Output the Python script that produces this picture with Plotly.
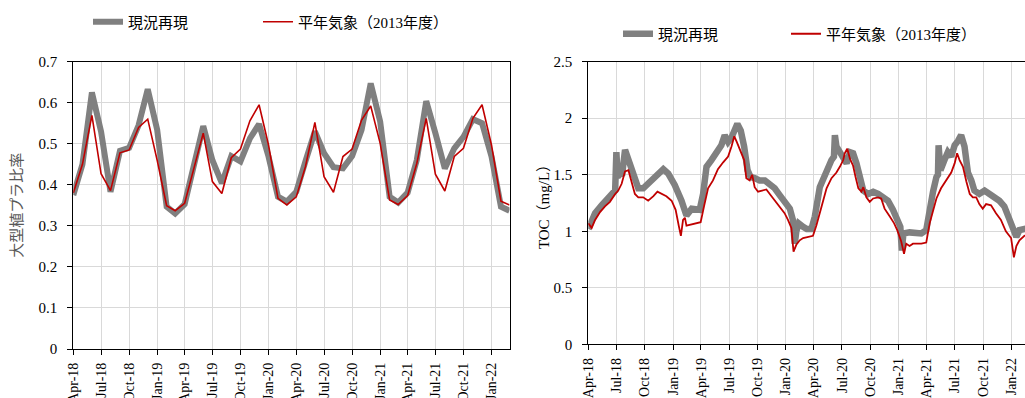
import pandas as pd
import plotly.graph_objects as go

# ---------------- Left chart: monthly ratio ----------------
months = pd.date_range("2018-04-01", periods=48, freq="MS")
ratio_current = [0.375, 0.45, 0.625, 0.53, 0.383, 0.483, 0.49, 0.545, 0.633, 0.534, 0.347, 0.33,
                 0.353, 0.444, 0.543, 0.46, 0.404, 0.47, 0.457, 0.513, 0.548, 0.469, 0.371, 0.359,
                 0.383, 0.457, 0.53, 0.477, 0.443, 0.44, 0.47, 0.534, 0.647, 0.554, 0.371, 0.357,
                 0.381, 0.46, 0.604, 0.526, 0.44, 0.489, 0.517, 0.56, 0.55, 0.469, 0.347, 0.337]
ratio_normal = [0.38, 0.45, 0.569, 0.427, 0.386, 0.478, 0.485, 0.54, 0.56, 0.46, 0.349, 0.337,
                0.355, 0.439, 0.526, 0.408, 0.379, 0.466, 0.487, 0.556, 0.595, 0.497, 0.367, 0.351,
                0.371, 0.444, 0.552, 0.42, 0.382, 0.469, 0.487, 0.558, 0.592, 0.501, 0.363, 0.352,
                0.374, 0.452, 0.562, 0.426, 0.385, 0.469, 0.489, 0.562, 0.595, 0.497, 0.36, 0.351]

# ---------------- Right chart: daily TOC ----------------
toc_current_dates = [
    "2018-04-01", "2018-04-23", "2018-05-14", "2018-06-05", "2018-06-27", "2018-07-01", "2018-07-05",
    "2018-07-10", "2018-07-20", "2018-07-29", "2018-08-09", "2018-08-25", "2018-09-10", "2018-09-26",
    "2018-10-18", "2018-11-08", "2018-11-30", "2018-12-16", "2019-01-06", "2019-01-28", "2019-02-13",
    "2019-03-02", "2019-03-19", "2019-03-28", "2019-04-08", "2019-04-19", "2019-05-05", "2019-05-21",
    "2019-06-06", "2019-06-17", "2019-06-28", "2019-07-09", "2019-07-20", "2019-07-28", "2019-08-08",
    "2019-08-19", "2019-08-30", "2019-09-09", "2019-09-22", "2019-10-08", "2019-10-25", "2019-11-10",
    "2019-11-26", "2019-12-12", "2019-12-28", "2020-01-14", "2020-01-24", "2020-01-30", "2020-02-04",
    "2020-02-12", "2020-02-26", "2020-03-09", "2020-03-24", "2020-04-04", "2020-04-20", "2020-05-01",
    "2020-05-17", "2020-05-28", "2020-06-05", "2020-06-08", "2020-06-13", "2020-06-24", "2020-07-05",
    "2020-07-16", "2020-07-27", "2020-08-06", "2020-08-17", "2020-08-28", "2020-09-08", "2020-09-24",
    "2020-10-10", "2020-10-26", "2020-11-11", "2020-11-27", "2020-12-13", "2020-12-29", "2021-01-06",
    "2021-01-11", "2021-01-16", "2021-02-05", "2021-02-21", "2021-03-15", "2021-03-31", "2021-04-11",
    "2021-04-22", "2021-05-03", "2021-05-08", "2021-05-10", "2021-05-14", "2021-05-16", "2021-05-29",
    "2021-06-09", "2021-06-20", "2021-07-01", "2021-07-12", "2021-07-22", "2021-08-02", "2021-08-13",
    "2021-08-24", "2021-09-03", "2021-09-19", "2021-10-06", "2021-10-22", "2021-11-07", "2021-11-23",
    "2021-12-09", "2021-12-26", "2022-01-09", "2022-01-17", "2022-01-27", "2022-02-12", "2022-02-28"]
toc_current = [
    1.02, 1.16, 1.23, 1.30, 1.36, 1.70, 1.48,
    1.50, 1.51, 1.72, 1.63, 1.50, 1.38, 1.38,
    1.44, 1.51, 1.55, 1.51, 1.41, 1.27, 1.14,
    1.20, 1.19, 1.19, 1.33, 1.57, 1.63, 1.70,
    1.76, 1.85, 1.79, 1.83, 1.91, 1.95, 1.89,
    1.75, 1.54, 1.48, 1.47, 1.45, 1.45, 1.42,
    1.38, 1.32, 1.26, 1.20, 1.10, 0.89, 1.00,
    1.07, 1.04, 1.02, 1.02, 1.13, 1.39, 1.47,
    1.57, 1.63, 1.66, 1.85, 1.75, 1.69, 1.64,
    1.60, 1.70, 1.69, 1.60, 1.48, 1.36, 1.33,
    1.35, 1.33, 1.30, 1.27, 1.19, 1.10, 1.04,
    0.83, 0.98, 0.99, 0.99, 0.98, 1.01, 1.22,
    1.35, 1.48, 1.50, 1.76, 1.62, 1.54, 1.63,
    1.70, 1.66, 1.76, 1.80, 1.85, 1.75, 1.52,
    1.45, 1.36, 1.33, 1.36, 1.33, 1.30, 1.27,
    1.22, 1.10, 0.97, 0.95, 1.01, 1.02, 1.03]

toc_normal_dates = [
    "2018-04-01", "2018-04-12", "2018-04-23", "2018-05-09", "2018-05-25", "2018-06-10", "2018-06-27",
    "2018-07-07", "2018-07-18", "2018-07-29", "2018-08-09", "2018-08-19", "2018-08-30", "2018-09-10",
    "2018-09-26", "2018-10-12", "2018-10-29", "2018-11-11", "2018-11-24", "2018-12-10", "2018-12-27",
    "2019-01-09", "2019-01-19", "2019-01-26", "2019-02-02", "2019-02-08", "2019-02-13", "2019-03-02",
    "2019-03-19", "2019-03-31", "2019-04-11", "2019-04-24", "2019-05-10", "2019-05-26", "2019-06-12",
    "2019-06-28", "2019-07-09", "2019-07-18", "2019-07-26", "2019-08-05", "2019-08-19", "2019-08-26",
    "2019-09-06", "2019-09-14", "2019-09-22", "2019-10-03", "2019-10-19", "2019-10-30", "2019-11-10",
    "2019-11-26", "2019-12-12", "2019-12-28", "2020-01-08", "2020-01-19", "2020-01-26", "2020-02-04",
    "2020-02-15", "2020-02-26", "2020-03-29", "2020-04-09", "2020-04-25", "2020-05-12", "2020-05-28",
    "2020-06-13", "2020-06-24", "2020-07-05", "2020-07-10", "2020-07-18", "2020-07-27", "2020-08-06",
    "2020-08-14", "2020-08-23", "2020-09-02", "2020-09-08", "2020-09-18", "2020-09-29", "2020-10-10",
    "2020-10-26", "2020-11-05", "2020-11-16", "2020-12-03", "2020-12-17", "2020-12-27", "2021-01-09",
    "2021-01-18", "2021-01-25", "2021-02-05", "2021-02-16", "2021-03-15", "2021-03-31", "2021-04-11",
    "2021-04-22", "2021-05-03", "2021-05-18", "2021-06-03", "2021-06-20", "2021-07-01", "2021-07-09",
    "2021-07-17", "2021-07-28", "2021-08-08", "2021-08-19", "2021-08-29", "2021-09-09", "2021-09-19",
    "2021-09-30", "2021-10-11", "2021-10-27", "2021-11-12", "2021-11-28", "2021-12-14", "2021-12-31",
    "2022-01-09", "2022-01-17", "2022-01-27", "2022-02-12", "2022-02-28"]
toc_normal = [
    1.07, 1.03, 1.10, 1.17, 1.22, 1.26, 1.33,
    1.36, 1.42, 1.53, 1.54, 1.45, 1.33, 1.30,
    1.30, 1.27, 1.31, 1.35, 1.33, 1.31, 1.27,
    1.19, 1.05, 0.96, 1.10, 1.12, 1.05, 1.06,
    1.07, 1.08, 1.22, 1.38, 1.45, 1.55, 1.61,
    1.66, 1.75, 1.84, 1.79, 1.73, 1.63, 1.47,
    1.45, 1.50, 1.39, 1.35, 1.36, 1.37, 1.33,
    1.27, 1.22, 1.16, 1.10, 1.03, 0.82, 0.88,
    0.92, 0.94, 0.96, 1.05, 1.21, 1.38, 1.47,
    1.52, 1.57, 1.63, 1.69, 1.73, 1.64, 1.58,
    1.48, 1.38, 1.35, 1.39, 1.30, 1.26, 1.29,
    1.30, 1.29, 1.20, 1.13, 1.07, 1.01, 0.91,
    0.80, 0.89, 0.87, 0.89, 0.89, 0.90, 1.07,
    1.19, 1.29, 1.38, 1.45, 1.52, 1.60, 1.69,
    1.63, 1.57, 1.44, 1.33, 1.30, 1.30, 1.24,
    1.20, 1.24, 1.23, 1.16, 1.10, 1.00, 0.94,
    0.77, 0.87, 0.92, 0.96, 0.97]

name_current = "現況再現"
name_normal = "平年気象（2013年度）"
left_ylabel = "大型植プラ比率"
right_ylabel = "TOC（mg/L）"

GRAY = "#808080"
RED = "#C00000"
FONT = "Liberation Serif, 'Noto Sans CJK JP', serif"
JFONT = "'Noto Sans CJK JP', sans-serif"

fig = go.Figure()
fig.add_trace(go.Scatter(x=months, y=ratio_current, mode="lines", name=name_current,
                         line=dict(color=GRAY, width=6), xaxis="x", yaxis="y", legend="legend"))
fig.add_trace(go.Scatter(x=months, y=ratio_normal, mode="lines", name=name_normal,
                         line=dict(color=RED, width=1.6), xaxis="x", yaxis="y", legend="legend2"))
fig.add_trace(go.Scatter(x=pd.to_datetime(toc_current_dates), y=toc_current, mode="lines", name=name_current,
                         line=dict(color=GRAY, width=6.5), xaxis="x2", yaxis="y2", legend="legend3"))
fig.add_trace(go.Scatter(x=pd.to_datetime(toc_normal_dates), y=toc_normal, mode="lines", name=name_normal,
                         line=dict(color=RED, width=1.8), xaxis="x2", yaxis="y2", legend="legend4"))

W, H = 1025, 398

xcommon = dict(type="date", dtick="M3", tick0="2018-04-01", tickformat="%b-%y", tickangle=-90,
               showline=True, linecolor="black", linewidth=1.2, mirror=True, automargin=False,
               ticks="outside", ticklen=5, tickcolor="black", ticklabelstandoff=2,
               showgrid=True, gridcolor="#d9d9d9", gridwidth=1,
               tickfont=dict(family=FONT, size=14, color="black"), zeroline=False)
ycommon = dict(showline=True, linecolor="black", linewidth=1.2, mirror=True, automargin=False,
               ticks="outside", ticklen=5, tickcolor="black", ticklabelstandoff=7,
               showgrid=True, gridcolor="#d9d9d9", gridwidth=1,
               tickfont=dict(family=FONT, size=15, color="black"), zeroline=False)


def leg(x_px, y_px):
    return dict(orientation="h", x=x_px / W, xanchor="left", y=1 - y_px / H, yanchor="middle",
                font=dict(family=FONT, size=15, color="black"),
                bgcolor="rgba(0,0,0,0)", borderwidth=0)


fig.update_layout(
    width=W, height=H,
    margin=dict(l=0, r=0, t=0, b=0, autoexpand=False),
    paper_bgcolor="white", plot_bgcolor="white",
    xaxis=dict(xcommon, domain=[73.3 / W, 509.5 / W], range=["2018-04-01", "2022-03-01"], anchor="y"),
    yaxis=dict(ycommon, domain=[(H - 349) / H, (H - 61.7) / H], range=[0, 0.7], dtick=0.1, anchor="x",
               title=dict(text=left_ylabel, font=dict(family=JFONT, size=15, color="#595959"), standoff=12)),
    xaxis2=dict(xcommon, domain=[588.3 / W, 1.0], range=["2018-04-01", "2022-02-14"], anchor="y2"),
    yaxis2=dict(ycommon, domain=[(H - 344.3) / H, (H - 61.7) / H], range=[0, 2.5], dtick=0.5, anchor="x2",
                title=dict(text=right_ylabel, font=dict(family=FONT, size=15, color="black"), standoff=0)),
    legend=leg(88, 22),
    legend2=leg(258, 22),
    legend3=leg(618, 34),
    legend4=leg(786, 34),
    showlegend=True,
)

fig.write_html("out.html")
